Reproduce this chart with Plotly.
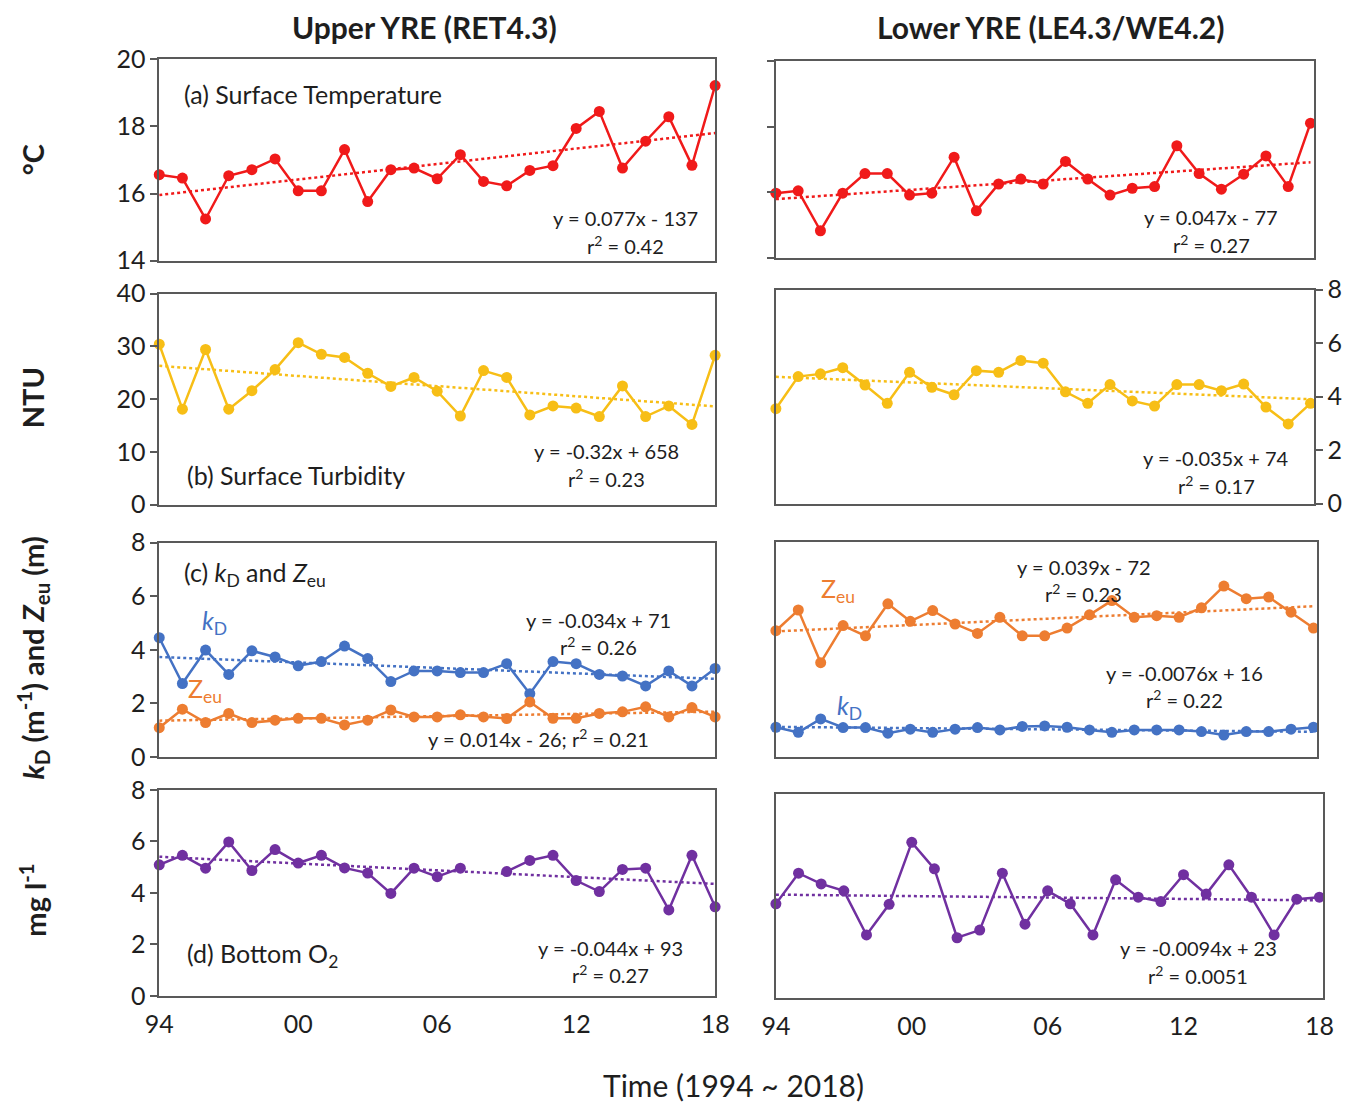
import plotly.graph_objects as go

# ---------------------------------------------------------------- data
years = list(range(1994, 2019))
year_ticks = [1994, 2000, 2006, 2012, 2018]
year_tick_text = ["94", "00", "06", "12", "18"]

# (a) surface temperature, degC
temp_upper = [16.56, 16.46, 15.24, 16.53, 16.71, 17.03, 16.08, 16.08, 17.31, 15.76,
              16.71, 16.76, 16.44, 17.16, 16.36, 16.23, 16.69, 16.83, 17.94, 18.45,
              16.76, 17.56, 18.29, 16.84, 19.22]
temp_lower = [15.97, 16.04, 14.82, 15.97, 16.57, 16.57, 15.91, 15.97, 17.07, 15.43,
              16.25, 16.40, 16.25, 16.94, 16.40, 15.91, 16.12, 16.17, 17.42, 16.57,
              16.09, 16.55, 17.11, 16.17, 18.11]
# (b) surface turbidity, NTU
turb_upper = [30.4, 18.1, 29.4, 18.1, 21.6, 25.6, 30.7, 28.5, 27.9, 24.9,
              22.4, 24.1, 21.5, 16.8, 25.4, 24.1, 17.0, 18.7, 18.3, 16.7,
              22.5, 16.7, 18.7, 15.2, 28.3]
turb_lower = [3.55, 4.75, 4.85, 5.08, 4.43, 3.75, 4.91, 4.35, 4.07, 4.97,
              4.91, 5.35, 5.25, 4.18, 3.75, 4.45, 3.84, 3.65, 4.45, 4.45,
              4.22, 4.47, 3.61, 2.98, 3.75]
# (c) light attenuation kD (1/m) and euphotic depth Zeu (m)
kd_upper = [4.45, 2.74, 3.99, 3.08, 3.96, 3.73, 3.40, 3.56, 4.14, 3.67,
            2.81, 3.21, 3.21, 3.15, 3.15, 3.48, 2.36, 3.56, 3.48, 3.08,
            3.02, 2.65, 3.21, 2.65, 3.30]
zeu_upper = [1.09, 1.78, 1.28, 1.62, 1.28, 1.37, 1.44, 1.44, 1.19, 1.37,
             1.75, 1.49, 1.49, 1.57, 1.49, 1.43, 2.05, 1.44, 1.44, 1.62,
             1.68, 1.87, 1.49, 1.84, 1.49]
zeu_lower = [4.69, 5.46, 3.50, 4.88, 4.50, 5.69, 5.04, 5.44, 4.94, 4.59,
             5.19, 4.50, 4.50, 4.79, 5.28, 5.81, 5.19, 5.25, 5.19, 5.54,
             6.35, 5.88, 5.94, 5.38, 4.79]
kd_lower = [1.10, 0.91, 1.41, 1.09, 1.09, 0.88, 1.03, 0.91, 1.03, 1.09,
            1.00, 1.13, 1.15, 1.10, 1.00, 0.91, 1.00, 1.00, 1.00, 0.94,
            0.81, 0.94, 0.94, 1.03, 1.10]
# (d) bottom dissolved oxygen, mg/l (no 2008 value upstream)
o2_upper = [5.09, 5.46, 4.96, 5.98, 4.87, 5.68, 5.16, 5.46, 4.97, 4.77,
            3.98, 4.96, 4.63, 4.96, None, 4.83, 5.26, 5.46, 4.48, 4.05,
            4.91, 4.96, 3.34, 5.46, 3.46]
o2_lower = [3.69, 4.89, 4.47, 4.20, 2.47, 3.67, 6.10, 5.06, 2.36, 2.66,
            4.89, 2.89, 4.20, 3.69, 2.47, 4.63, 3.95, 3.78, 4.83, 4.07,
            5.22, 3.95, 2.47, 3.87, 3.95]

# regression slopes
slopes = {
    "temp_upper": 0.077, "temp_lower": 0.047,
    "turb_upper": -0.32, "turb_lower": -0.035,
    "kd_upper": -0.034, "zeu_upper": 0.014,
    "zeu_lower": 0.039, "kd_lower": -0.0076,
    "o2_upper": -0.044, "o2_lower": -0.0094,
}

RED, GOLD, BLUE, ORANGE, PURPLE = "#F01A1A", "#F7BE16", "#4472C4", "#ED7D31", "#7030A0"
FRAME = "#595959"
TEXT = "#1e1e1e"
FONT = "Lato"

# figure canvas and the screen-pixel -> canvas-pixel mapping used for layout
FIG_W, FIG_H = 1380, 1135
OX, OY = 12.2, 16.6
SX, SY = 0.982, 0.973


def fx(x):
    return ((x - OX) / SX) / FIG_W


def fy(y):
    return 1 - ((y - OY) / SY) / FIG_H


# panel frames in screen pixels: left, right, top, bottom
boxes = {
    (1, 1): (157, 715, 60, 261), (1, 2): (776, 1316, 62, 258),
    (2, 1): (157, 715, 294, 505), (2, 2): (776, 1316, 290, 504),
    (3, 1): (157, 715, 543, 757), (3, 2): (776, 1319, 542, 757),
    (4, 1): (157, 715, 790, 996), (4, 2): (776, 1325, 794, 998),
}
yranges = {
    (1, 1): (14, 20, 2), (1, 2): (14, 20, 2),
    (2, 1): (0, 40, 10), (2, 2): (0, 8, 2),
    (3, 1): (0, 8, 2), (3, 2): (0, 8, 2),
    (4, 1): (0, 8, 2), (4, 2): (0, 8, 2),
}
series = {
    (1, 1): [(temp_upper, RED, "temp_upper")],
    (1, 2): [(temp_lower, RED, "temp_lower")],
    (2, 1): [(turb_upper, GOLD, "turb_upper")],
    (2, 2): [(turb_lower, GOLD, "turb_lower")],
    (3, 1): [(kd_upper, BLUE, "kd_upper"), (zeu_upper, ORANGE, "zeu_upper")],
    (3, 2): [(zeu_lower, ORANGE, "zeu_lower"), (kd_lower, BLUE, "kd_lower")],
    (4, 1): [(o2_upper, PURPLE, "o2_upper")],
    (4, 2): [(o2_lower, PURPLE, "o2_lower")],
}


def trend(xs, ys, slope):
    pts = [(x, y) for x, y in zip(xs, ys) if y is not None]
    mx = sum(p[0] for p in pts) / len(pts)
    my = sum(p[1] for p in pts) / len(pts)
    x0, x1 = xs[0], xs[-1]
    return [x0, x1], [my + slope * (x0 - mx), my + slope * (x1 - mx)]


fig = go.Figure()
layout = {}
for (row, col), (l, r, t, b) in boxes.items():
    n = (row - 1) * 2 + col
    xa = "x" if n == 1 else f"x{n}"
    ya = "y" if n == 1 else f"y{n}"
    xkey = "xaxis" if n == 1 else f"xaxis{n}"
    ykey = "yaxis" if n == 1 else f"yaxis{n}"
    y0, y1, dt = yranges[(row, col)]
    xmax = 2018 if col == 1 else 2018.15

    layout[xkey] = dict(
        domain=[fx(l), fx(r)], range=[1994, xmax], anchor=ya,
        tickvals=year_ticks, ticktext=year_tick_text,
        showticklabels=(row == 4), ticks="", showgrid=False, zeroline=False,
        showline=True, mirror=True, linecolor=FRAME, linewidth=1.5,
        tickfont=dict(family=FONT, size=25, color=TEXT), ticklabelstandoff=5,
    )
    ydict = dict(
        domain=[fy(b), fy(t)], range=[y0, y1], dtick=dt, tick0=0, anchor=xa,
        showgrid=False, zeroline=False,
        showline=True, mirror=True, linecolor=FRAME, linewidth=1.5,
        tickfont=dict(family=FONT, size=25, color=TEXT),
        ticks="outside", ticklen=7, tickcolor=FRAME, tickwidth=1.5,
        showticklabels=True,
    )
    if col == 2:
        if row == 2:
            ydict["side"] = "right"
        elif row == 1:
            ydict["showticklabels"] = False
        else:
            ydict["ticks"] = ""
            ydict["showticklabels"] = False
    layout[ykey] = ydict

    for vals, color, key in series[(row, col)]:
        tx, ty = trend(years, vals, slopes[key])
        fig.add_trace(go.Scatter(
            x=tx, y=ty, xaxis=xa, yaxis=ya, mode="lines",
            line=dict(color=color, width=2.5, dash="dot"),
            showlegend=False, hoverinfo="skip"))
    for vals, color, key in series[(row, col)]:
        fig.add_trace(go.Scatter(
            x=years, y=vals, xaxis=xa, yaxis=ya, mode="lines+markers",
            line=dict(color=color, width=2.5), marker=dict(color=color, size=11),
            connectgaps=False, showlegend=False, cliponaxis=False))

annotations = []


def note(text, x, y, size=20, color=TEXT, xanchor="center", bold=False, angle=0):
    if bold:
        text = f"<b>{text}</b>"
    annotations.append(dict(
        text=text, x=fx(x), y=fy(y), xref="paper", yref="paper",
        xanchor=xanchor, yanchor="middle", showarrow=False, textangle=angle,
        font=dict(family=FONT, size=size, color=color)))


# column headings
note("Upper YRE (RET4.3)", 423, 28, size=30, bold=True)
note("Lower YRE (LE4.3/WE4.2)", 1052, 28, size=30, bold=True)

# y axis titles
note("°C", 30, 160, size=29, bold=True, angle=-90)
note("NTU", 30, 398, size=29, bold=True, angle=-90)
note("<i>k</i><sub>D</sub> (m<sup>-1</sup>) and <i>Z</i><sub>eu</sub> (m)", 30, 658,
     size=29, bold=True, angle=-90)
note("mg l<sup>-1</sup>", 30, 900, size=29, bold=True, angle=-90)

# x axis title
note("Time (1994 ~ 2018)", 733, 1085, size=30)

# panel labels
note("(a) Surface Temperature", 180, 95, size=25, xanchor="left")
note("(b) Surface Turbidity", 183, 475, size=25, xanchor="left")
note("(c) <i>k</i><sub>D</sub> and <i>Z</i><sub>eu</sub>", 180, 574, size=25, xanchor="left")
note("(d) Bottom O<sub>2</sub>", 183, 955, size=25, xanchor="left")

# series labels
note("<i>k</i><sub>D</sub>", 212, 622, size=25, color=BLUE)
note("Z<sub>eu</sub>", 203, 690, size=25, color=ORANGE)
note("Z<sub>eu</sub>", 838, 590, size=25, color=ORANGE)
note("<i>k</i><sub>D</sub>", 850, 707, size=25, color=BLUE)

# regression equations
note("y = 0.077x - 137", 625, 218)
note("r<sup>2</sup> = 0.42", 625, 245)
note("y = 0.047x - 77", 1213, 217)
note("r<sup>2</sup> = 0.27", 1213, 244)
note("y = -0.32x + 658", 606, 451)
note("r<sup>2</sup> = 0.23", 606, 478)
note("y = -0.035x + 74", 1218, 458)
note("r<sup>2</sup> = 0.17", 1218, 485)
note("y = -0.034x + 71", 598, 620)
note("r<sup>2</sup> = 0.26", 598, 646)
note("y = 0.014x - 26; r<sup>2</sup> = 0.21", 538, 738)
note("y = 0.039x - 72", 1085, 567)
note("r<sup>2</sup> = 0.23", 1085, 593)
note("y = -0.0076x + 16", 1186, 673)
note("r<sup>2</sup> = 0.22", 1186, 699)
note("y = -0.044x + 93", 610, 948)
note("r<sup>2</sup> = 0.27", 610, 974)
note("y = -0.0094x + 23", 1200, 948)
note("r<sup>2</sup> = 0.0051", 1200, 975)

fig.update_layout(
    width=FIG_W, height=FIG_H, margin=dict(l=0, r=0, t=0, b=0),
    paper_bgcolor="white", plot_bgcolor="white",
    font=dict(family=FONT, color=TEXT),
    annotations=annotations, **layout)

fig.write_html("out.html")
